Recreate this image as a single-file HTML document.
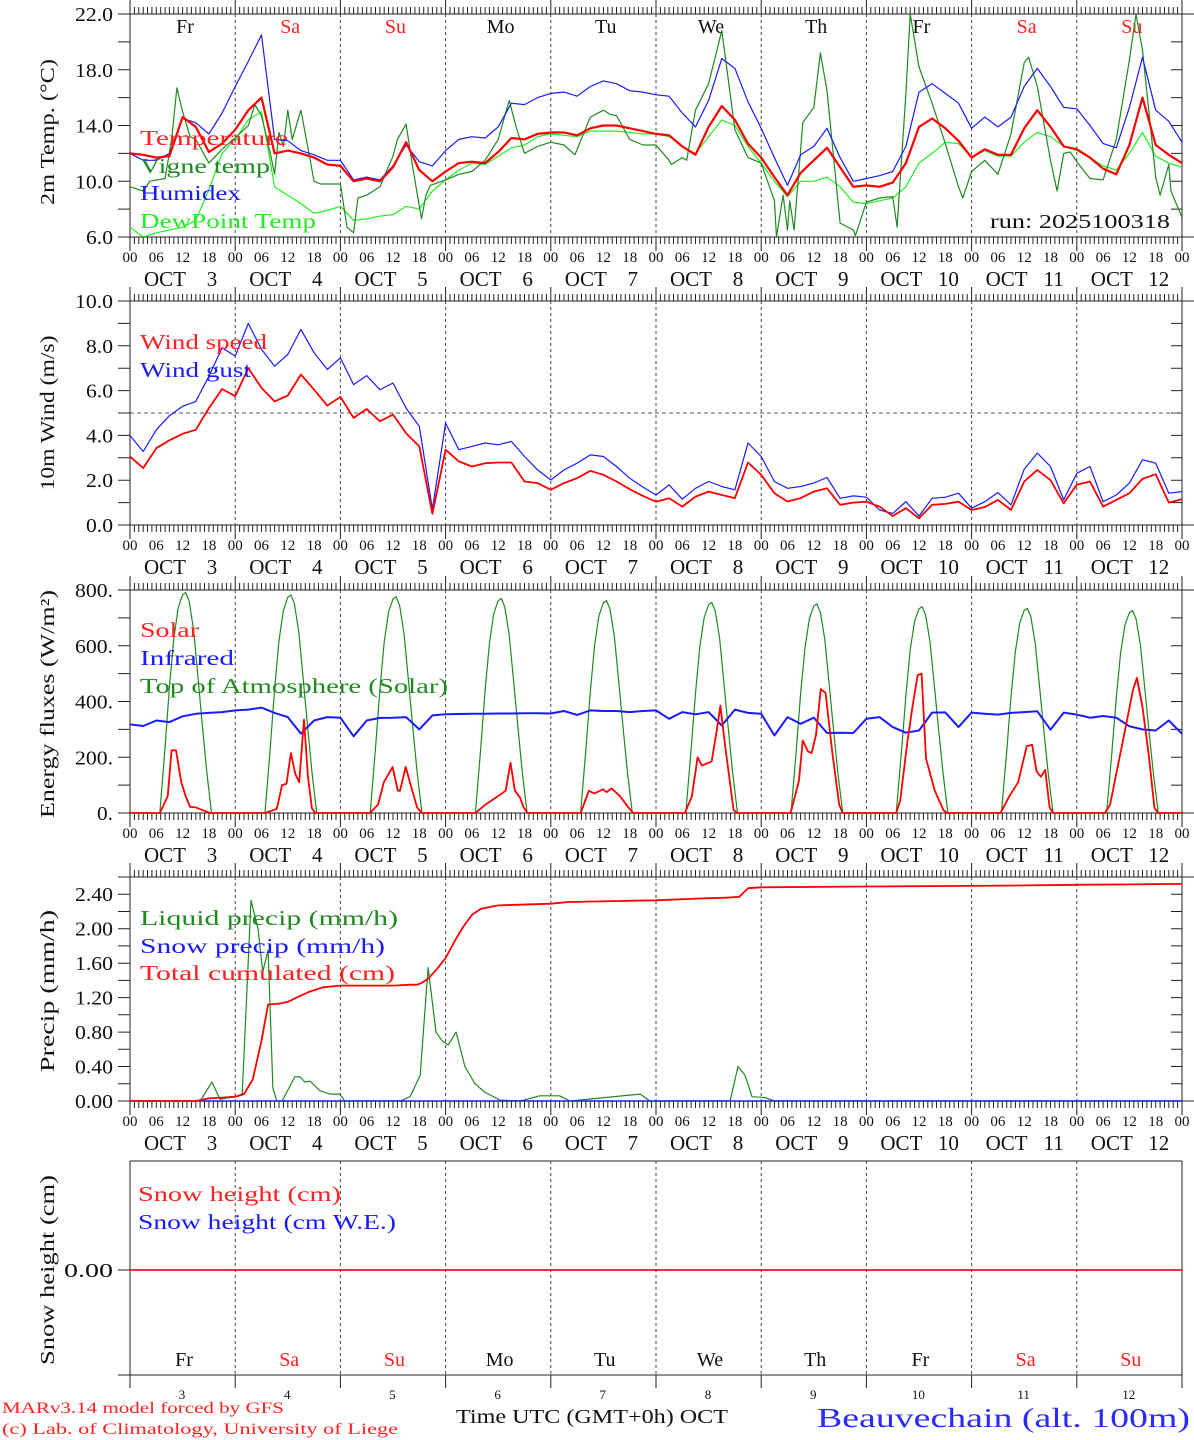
<!DOCTYPE html>
<html><head><meta charset="utf-8"><title>MAR forecast Beauvechain</title>
<style>
html,body{margin:0;padding:0;background:#fff;}
svg{display:block;}
text{font-family:"Liberation Serif",serif;}
</style></head>
<body>
<svg id="chart" xmlns="http://www.w3.org/2000/svg" width="1194" height="1440" viewBox="0 0 1194 1440">
<defs>
<clipPath id="c1"><rect x="130" y="14" width="1052" height="223"/></clipPath>
<clipPath id="c2"><rect x="130" y="301" width="1052" height="224"/></clipPath>
<clipPath id="c3"><rect x="130" y="585" width="1052" height="230"/></clipPath>
<clipPath id="c4"><rect x="130" y="877" width="1052" height="226"/></clipPath>
</defs>
</svg>
<script>
// ---------- data ----------
const dayNames = ['Fr','Sa','Su','Mo','Tu','We','Th','Fr','Sa','Su'];
const dayNums = ['3','4','5','6','7','8','9','10','11','12'];
const weekendDays = ['Sa','Su'];
const hourLabels = ['00','06','12','18'];
const stepHours = 3;

const tempVals = [12.0,11.9,11.7,11.8,14.6,13.9,12.1,12.7, 13.7,15.1,16.0,12.0,12.2,12.0,11.7,11.2,
 11.1,10.0,10.2,10.0,11.0,12.8,10.8,10.0, 10.7,11.3,11.4,11.3,12.1,13.1,13.0,13.4,
 13.5,13.5,13.3,13.8,14.0,14.0,13.8,13.6, 13.4,13.3,12.5,11.9,13.9,15.4,14.4,12.7,
 11.7,10.3,9.0,10.6,11.5,12.4,11.0,9.6, 9.7,9.6,9.9,11.3,13.9,14.5,13.8,12.9,
 11.7,12.3,11.9,11.9,13.8,15.1,13.9,12.5, 12.3,11.7,10.9,10.5,12.6,16.0,12.6,11.9,11.3];
const humidexVals = [12.0,11.5,11.5,12.0,14.5,14.2,13.4,14.9, 16.8,18.6,20.5,13.0,12.9,12.2,11.9,11.5,
 11.5,10.1,10.3,10.1,11.1,12.6,11.4,11.1, 12.2,13.0,13.2,13.1,13.9,15.6,15.5,16.0,
 16.3,16.4,16.1,16.8,17.2,17.0,16.5,16.4, 16.2,16.1,14.9,13.9,15.8,18.8,18.1,15.7,
 13.8,11.7,9.7,11.9,12.5,13.8,11.7,10.0, 10.2,10.4,10.7,12.5,16.4,17.0,16.3,15.6,
 13.8,14.6,13.9,14.6,16.8,18.1,16.8,15.3, 15.2,14.0,12.7,12.4,15.3,18.9,15.1,14.3,12.8];
const dewVals = [6.7,6.0,6.3,6.5,6.7,7.2,9.4,12.0, 13.0,14.4,15.0,9.6,9.0,8.4,7.7,7.9,
 8.2,7.2,7.3,7.5,7.6,8.2,8.0,9.3, 10.1,10.8,11.3,11.2,11.8,12.4,12.6,13.2,
 13.4,13.3,13.2,13.6,13.6,13.6,13.5,13.4, 13.4,13.2,12.5,12.0,13.2,14.4,14.0,12.5,
 11.3,10.0,8.9,10.0,10.0,10.3,9.6,8.5, 8.4,8.6,8.8,9.6,11.3,12.0,12.8,12.7,
 11.7,12.2,11.8,11.8,12.8,13.5,13.2,12.5, 12.2,11.7,11.1,10.8,12.0,13.5,11.8,11.3,11.0];
const vigneH = [0,3,4.5,8,9.5,10.7,12,13.7,15,18,21,24,27,28.5,30,32,33,34,35,36,37,39,42,43.5,48,49.5,51,52,54,57,
 60,61,63,64.5,66.5,67.5,68.5,72,75,78,81,84,86.5,88,90,93,96,99,101.5,105,108,109.5,111,114,117,120,123,123.5,126,127,
 129,132,135,138,141,144,147,147.5,149,150,150.5,151.5,153.5,156,157.5,159,162,165,165.5,168,171,174,175,177,178,180,183,186,189,190,
 192,195,198,201,204,205,207,210,211.5,213,214.5,216,219,222,225,228,229.5,231,234,235,237,237.5,240];
const vigneVals = [9.6,9.3,10.0,10.2,13.0,16.7,15.0,13.2,13.0,11.3,12.3,13.1,14.0,15.5,14.7,12.0,10.5,13.5,12.5,15.1,
 13.0,15.1,10.0,9.8,9.8,6.7,6.3,8.8,9.0,9.6,11.8,13.0,14.1,11.0,7.3,9.0,9.7,10.1,10.5,10.7,
 11.5,13.0,15.8,14.0,12.0,12.5,12.8,12.6,11.9,14.6,15.1,14.8,14.7,13.0,12.6,12.6,11.5,11.2,11.7,11.5,
 15.1,17.0,20.8,13.7,11.7,11.3,8.6,6.0,9.0,6.5,8.6,6.5,14.2,15.3,19.2,16.5,7.0,6.5,6.1,8.5,
 8.8,8.9,6.7,16.3,22.0,18.2,15.6,12.7,9.6,8.8,10.7,11.5,10.5,13.4,18.5,18.9,16.8,11.5,9.3,12.0,
 12.1,11.4,10.2,10.1,13.0,18.7,22.0,19.4,10.3,9.0,11.2,9.3,7.4];

const windVals = [3.06,2.54,3.43,3.78,4.07,4.25,5.22,6.07,5.75,7.0, 6.12,5.52,5.78,6.72,6.04,5.33,5.72,4.78,5.18,4.63,
 4.93,4.1,3.51,0.5,3.36,2.84,2.61,2.76,2.79,2.79, 1.94,1.87,1.57,1.87,2.09,2.42,2.24,1.94,1.6,1.3,
 1.04,1.19,0.82,1.27,1.49,1.34,1.2,2.79,2.24,1.42, 1.05,1.2,1.49,1.64,0.9,1.0,1.04,0.82,0.4,0.75,
 0.3,0.9,0.94,1.04,0.67,0.8,1.12,0.67,1.94,2.46, 2.0,0.97,1.8,1.94,0.82,1.12,1.42,2.06,2.27,1.0,1.15];
const gustVals = [3.99,3.28,4.25,4.88,5.3,5.52,6.64,7.91,7.54,9.0, 7.84,7.09,7.61,8.73,7.69,6.94,7.46,6.27,6.67,6.04,
 6.34,5.22,4.4,0.7,4.55,3.36,3.51,3.66,3.58,3.73, 3.06,2.46,2.01,2.46,2.76,3.13,3.06,2.61,2.09,1.69,
 1.34,1.79,1.15,1.64,1.94,1.72,1.57,3.66,3.06,1.94, 1.64,1.72,1.87,2.12,1.19,1.3,1.24,0.67,0.52,1.04,
 0.4,1.19,1.24,1.42,0.75,1.04,1.45,0.9,2.49,3.21, 2.61,1.12,2.31,2.61,1.04,1.34,1.87,2.91,2.76,1.42,1.49];

const infraredVals = [318,312,332,326,347,356,359,362,368,371, 378,359,344,285,332,344,342,275,332,341,
 342,344,300,350,354,355,356,356,357,357, 358,358,357,366,352,368,366,366,362,366,
 368,338,362,354,362,314,371,359,356,278, 344,320,342,287,288,287,338,344,308,288,
 296,360,361,308,360,356,353,359,362,365, 299,360,353,342,348,342,311,300,296,332,284];
const solarH = [0,6.8,8.6,9.5,10.5,11.7,12.7,13.7,15,16.6,18.3, 30.8,33.5,34.7,35.7,36.7,37.7,38.6,39.7,40.6,41.5,42.3,
 54.7,56.6,57.9,59.9,61.1,61.6,62.9,64.4,65.5,66.6, 78.8,81.1,83.9,85.7,86.8,87.8,89,89.8,90.7,
 102.8,104.7,105.9,107.9,108.7,109.9,111.8,113.7,114.8, 126.6,128.2,129.5,130.5,132.7,133.9,134.7,135.7,137.7,138.6,
 150.7,152.6,153.5,154.7,155.5,156.5,157.6,158.7,160.2,161.8,162.6, 174.8,175.7,177.3,178.5,179.7,180.6,181.6,183.6,185.6,186.4,
 198.6,200.6,202.6,204.6,205.8,206.8,207.8,208.8,209.8,210.6, 222.4,223.6,226.4,228.8,229.7,231,232.4,233.7,234.5,240];
const solarVals = [0,0,60,225,225,110,60,22,20,10,0, 0,15,100,105,215,140,110,335,128,17,0,
 0,30,110,165,80,80,165,80,20,0, 0,30,60,80,180,80,55,20,0,
 0,80,70,85,75,88,60,20,0, 0,60,200,170,185,300,385,250,10,0,
 0,115,260,220,215,280,445,430,220,30,0, 0,45,250,380,495,500,195,80,10,0,
 0,60,110,240,245,150,130,155,20,0, 0,30,250,440,485,380,210,20,0,0];
const toaDayHours = [6.8,8,9,10,11,12,12.7,13.5,14.5,15.5,16.5,17.5,18.6];
const toaVals = [
 [0,237,451,625,736,783,791,759,657,490,316,150,0],
 [0,235,446,618,727,774,782,751,649,485,313,149,0],
 [0,233,442,613,722,768,776,745,644,481,310,147,0],
 [0,231,439,608,716,762,770,739,639,477,308,146,0],
 [0,229,434,602,709,754,762,732,632,472,305,145,0],
 [0,227,430,596,702,747,755,725,627,468,302,143,0],
 [0,225,428,593,698,743,750,720,623,465,300,143,0],
 [0,222,422,585,688,733,740,710,614,459,296,141,0],
 [0,220,418,580,683,727,734,705,609,455,294,139,0],
 [0,218,414,574,675,719,726,697,603,450,290,138,0]];

const liqH = [0,16,18.7,20.5,24,25.6,26.7,27.6,29.2,30.3,31.5,32.6,33.5,34.7,37.6,38.8,39.9,41.1,43.3,45.6,47.9,49,
 61.6,63.9,66.2,68,69.8,71.2,72.6,74.4,76.4,78.7,81,84.4,89,93.5,98,100.4,116.4,118.6,136.9,138.7,140.3,141.9,144.9,147,240];
const liqVals = [0,0,0.22,0.02,0.05,0.08,1.3,2.33,2.0,1.5,1.75,0.15,0,0,0.28,0.28,0.22,0.23,0.12,0.08,0.08,0,
 0,0.05,0.3,1.55,0.8,0.7,0.65,0.8,0.4,0.2,0.1,0.01,0,0.06,0.06,0,0.08,0,0,0.4,0.3,0.05,0.04,0,0];
const cumH = [0,15,18,21,24,26,28,30,31.5,34,36,38,41,44,48,60,64,65.5,66.5,68,70,72,74,76,78,80,84,96,100,110,120,130,136,139,140,141,144,168,200,216,240];
const cumVals = [0,0,0.03,0.04,0.05,0.08,0.25,0.7,1.12,1.13,1.15,1.2,1.27,1.32,1.34,1.34,1.35,1.35,1.37,1.42,1.53,1.66,1.85,2.02,2.16,2.23,2.27,2.29,2.31,2.32,2.33,2.35,2.36,2.37,2.42,2.47,2.48,2.49,2.5,2.51,2.52];
const snowH = [0,240];
const snowVals = [0,0];
const snowWeVals = [0,0];

// ---------- geometry ----------
const NS='http://www.w3.org/2000/svg';
const svg=document.getElementById('chart');
const X0=130, X1=1182, HMAX=240;
function xOf(h){return X0+h*(X1-X0)/HMAX;}
const P1={top:14,bot:237,min:6,max:22};
const P2={top:301,bot:525,min:0,max:10};
const P3={top:590,bot:813,min:0,max:800};
const P4={top:877,bot:1101,min:0,max:2.6};
function yOf(p,v){return p.bot-(v-p.min)/(p.max-p.min)*(p.bot-p.top);}
function mk(tag,attrs,parent){const e=document.createElementNS(NS,tag);for(const k in attrs)e.setAttribute(k,attrs[k]);(parent||svg).appendChild(e);return e;}
function txt(s,attrs,parent){const e=mk('text',attrs,parent);e.textContent=s;return e;}
function stepHoursArr(n){const a=[];for(let i=0;i<n;i++)a.push(i*stepHours);return a;}
function pathD(p,hs,vs){let d='';for(let i=0;i<vs.length;i++){d+=(i?'L':'M')+xOf(hs[i]).toFixed(1)+' '+yOf(p,vs[i]).toFixed(1);}return d;}
const hours3=stepHoursArr(tempVals.length);

// ---------- frames ----------
function frame(p,name,yTicks,minorStep,labelFmt,labels){
  const g=mk('g',{});
  
  
  let d='M118 '+p.top+'H1194M118 '+p.bot+'H1194M130 '+p.top+'V'+p.bot+'M1182 '+p.top+'V'+p.bot;
  for(let h=0;h<=240;h++){const x=xOf(h).toFixed(1);const L=(h%24===0)?14:7;d+='M'+x+' '+(p.top-L)+'V'+p.top+'M'+x+' '+p.bot+'V'+(p.bot+L);}
  for(let v=p.min;v<=p.max+1e-9;v+=minorStep){const y=yOf(p,v).toFixed(1);d+='M118 '+y+'H130M1171 '+y+'H1182';}
  const fr=mk('path',{d:d,stroke:'#222','stroke-width':1,fill:'none'},g);
  
  
  let dd='';for(let k=1;k<10;k++){const x=xOf(k*24).toFixed(1);dd+='M'+x+' '+p.top+'V'+p.bot;}
  const dl=mk('path',{d:dd,stroke:'#444','stroke-width':1,'stroke-dasharray':'3,3',fill:'none'},g);
  
  
  labels.forEach(v=>{
    const s=labelFmt(v);
    const t=txt(s,{x:113,y:(yOf(p,v)+7).toFixed(1),'text-anchor':'end','font-size':20,fill:'#111',textLength:(s.replace('.','').length*11+5),lengthAdjust:'spacingAndGlyphs'},g);
    
    
  });
  for(let k=0;k<=40;k++){
    const t=txt(hourLabels[k%4],{x:xOf(k*6).toFixed(1),y:p.bot+25,'text-anchor':'middle','font-size':15,fill:'#111'},g);
    
    
  }
  for(let k=0;k<10;k++){
    const x0=xOf(k*24);
    const a=txt('OCT',{x:(x0+35).toFixed(1),y:p.bot+49,'text-anchor':'middle','font-size':21,fill:'#111'},g);
    
    
    const b=txt(dayNums[k],{x:(x0+82).toFixed(1),y:p.bot+49,'text-anchor':'middle','font-size':21,fill:'#111'},g);
    
    
  }
  return g;
}
const f1=frame(P1,'temp-panel',[],2,v=>v.toFixed(1),[22,18,14,10,6]);
const f2=frame(P2,'wind-panel',[],1,v=>v.toFixed(1),[10,8,6,4,2,0]);
const f3=frame(P3,'energy-panel',[],100,v=>v===0?'0.':v+'.',[800,600,400,200,0]);
const f4=frame(P4,'precip-panel',[],0.2,v=>v.toFixed(2),[2.4,2.0,1.6,1.2,0.8,0.4,0]);

dayNames.forEach((n,k)=>{
  const t=txt(n,{x:(xOf(k*24)+55).toFixed(1),y:33,'text-anchor':'middle','font-size':20,fill:weekendDays.includes(n)?'#ff2020':'#111'});
  
  
});

const th=mk('path',{d:'M130 '+yOf(P2,5)+'H1182',stroke:'#555','stroke-dasharray':'4,3','stroke-width':1,fill:'none'});



// ---------- series ----------
function line(p,clip,hs,vs,color,w){
  return mk('path',{d:pathD(p,hs,vs),stroke:color,'stroke-width':w,fill:'none','clip-path':'url(#'+clip+')','stroke-linejoin':'round'});
}
let s;
s=line(P1,'c1',hours3,dewVals,'#22ee22',1.2);


s=line(P1,'c1',vigneH,vigneVals,'#1f8a1f',1.2);


s=line(P1,'c1',hours3,humidexVals,'#1a1aff',1.2);


s=line(P1,'c1',hours3,tempVals,'#ff0000',2.2);



s=line(P2,'c2',hours3,gustVals,'#1a1aff',1.2);


s=line(P2,'c2',hours3,windVals,'#ff0000',1.8);



const toaH=[],toaV=[];
toaVals.forEach((row,d)=>{row.forEach((v,j)=>{toaH.push(d*24+toaDayHours[j]);toaV.push(v);});});
s=line(P3,'c3',[0].concat(toaH,[240]),[0].concat(toaV,[0]),'#1f8a1f',1.2);


s=line(P3,'c3',hours3,infraredVals,'#1a1aff',2);


s=line(P3,'c3',solarH,solarVals,'#ff0000',1.8);



s=line(P4,'c4',liqH,liqVals,'#1f8a1f',1.2);


s=line(P4,'c4',[0,240],[0,0],'#1a1aff',1.5);


s=line(P4,'c4',cumH,cumVals,'#ff0000',1.8);



// ---------- panel 5 (snow) ----------
const P5={top:1161,bot:1375};
const y5=1270;
let d5='M130 '+P5.top+'H1182M118 '+P5.bot+'H1182M130 '+P5.top+'V1388M1182 '+P5.top+'V1388M118 '+y5+'H130';
for(let k=0;k<=10;k++){const x=xOf(k*24).toFixed(1);d5+='M'+x+' '+P5.bot+'V1388';}
s=mk('path',{d:d5,stroke:'#222','stroke-width':1,fill:'none'});


let dd5='';for(let k=1;k<10;k++){const x=xOf(k*24).toFixed(1);dd5+='M'+x+' '+P5.top+'V'+P5.bot;}
s=mk('path',{d:dd5,stroke:'#444','stroke-dasharray':'3,3','stroke-width':1,fill:'none'});


s=mk('path',{d:'M'+xOf(snowH[0])+' '+(y5-snowWeVals[0])+'L'+xOf(snowH[1])+' '+(y5-snowWeVals[1]),stroke:'#1a1aff','stroke-width':1.2,fill:'none'});


s=mk('path',{d:'M'+xOf(snowH[0])+' '+(y5-snowVals[0])+'L'+xOf(snowH[1])+' '+(y5-snowVals[1]),stroke:'#ff0000','stroke-width':1.5,fill:'none'});


s=txt('0.00',{x:113,y:y5+7,'text-anchor':'end','font-size':20,fill:'#111',textLength:49,lengthAdjust:'spacingAndGlyphs'});


dayNames.forEach((n,k)=>{
  const t=txt(n,{x:(xOf(k*24)+54).toFixed(1),y:1366,'text-anchor':'middle','font-size':20,fill:weekendDays.includes(n)?'#ff2020':'#111'});
  
  
  const u=txt(dayNums[k],{x:(xOf(k*24)+52).toFixed(1),y:1399,'text-anchor':'middle','font-size':13,fill:'#111'});
  
  
});

// ---------- legends ----------
function legend(str,x,y,color,w){
  return txt(str,{x:x,y:y+7,'font-size':21,fill:color,textLength:w,lengthAdjust:'spacingAndGlyphs'});
}
const legendDefs=[
 ['Temperature',140,138,'#ff2020',148,'legend-temperature'],
 ['Vigne temp',140,166,'#1f8a1f',130,'legend-vigne-temp'],
 ['Humidex',140,193,'#1a1aff',101,'legend-humidex'],
 ['DewPoint Temp',140,221,'#22ee22',176,'legend-dewpoint'],
 ['Wind speed',140,342,'#ff2020',127,'legend-wind-speed'],
 ['Wind gust',140,370,'#1a1aff',111,'legend-wind-gust'],
 ['Solar',140,630,'#ff2020',59,'legend-solar'],
 ['Infrared',140,658,'#1a1aff',94,'legend-infrared'],
 ['Top of Atmosphere (Solar)',140,686,'#1f8a1f',308,'legend-toa'],
 ['Liquid precip (mm/h)',140,918,'#1f8a1f',258,'legend-liquid-precip'],
 ['Snow precip (mm/h)',140,946,'#1a1aff',245,'legend-snow-precip'],
 ['Total cumulated (cm)',140,973,'#ff2020',255,'legend-total-cumulated'],
 ['Snow height (cm)',138,1194,'#ff2020',203,'legend-snow-height'],
 ['Snow height (cm W.E.)',138,1222,'#1a1aff',258,'legend-snow-height-we']
];
legendDefs.forEach(L=>{
  const t=legend(L[0],L[1],L[2],L[3],L[4]);
  
  
});

// ---------- axis titles ----------
const titles=[
 ['2m Temp. (\u00B0C)',132,146,'temp-y-axis-title'],
 ['10m Wind (m/s)',413,155,'wind-y-axis-title'],
 ['Energy fluxes (W/m\u00B2)',704,228,'energy-y-axis-title'],
 ['Precip (mm/h)',991,162,'precip-y-axis-title'],
 ['Snow height (cm)',1270,190,'snow-y-axis-title']
];
titles.forEach(T=>{
  const t=txt(T[0],{x:0,y:0,'text-anchor':'middle','font-size':20,fill:'#111',textLength:T[2],lengthAdjust:'spacingAndGlyphs',transform:'translate(54,'+T[1]+') rotate(-90)'});
  
  
});

// ---------- misc text ----------
s=txt('run: 2025100318',{x:990,y:228,'font-size':20,fill:'#111',textLength:180,lengthAdjust:'spacingAndGlyphs'});


s=txt('MARv3.14 model forced by GFS',{x:2,y:1413,'font-size':16,fill:'#ff2020',textLength:282,lengthAdjust:'spacingAndGlyphs'});


s=txt('(c) Lab. of Climatology, University of Liege',{x:2,y:1434,'font-size':16,fill:'#ff2020',textLength:396,lengthAdjust:'spacingAndGlyphs'});


s=txt('Time UTC (GMT+0h) OCT',{x:456,y:1423,'font-size':20,fill:'#111',textLength:272,lengthAdjust:'spacingAndGlyphs'});


s=txt('Beauvechain (alt. 100m)',{x:817,y:1427,'font-size':27,fill:'#2a2aff',textLength:373,lengthAdjust:'spacingAndGlyphs'});


</script>
</body></html>
